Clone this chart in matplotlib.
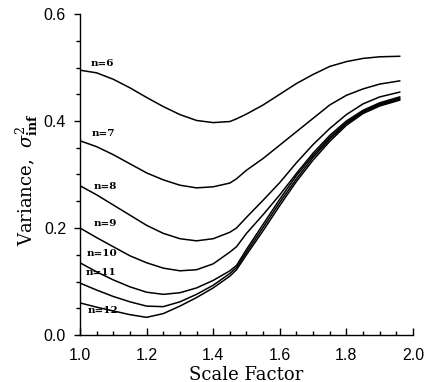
import matplotlib
matplotlib.use('Agg')
import matplotlib.pyplot as plt
from matplotlib.ticker import MultipleLocator

# scale factor grid
scale = [1.00, 1.05, 1.10, 1.15, 1.20, 1.25, 1.30, 1.35, 1.40, 1.45, 1.47,
         1.50, 1.55, 1.60, 1.65, 1.70, 1.75, 1.80, 1.85, 1.90, 1.96]

var_n6 = [0.495, 0.490, 0.478, 0.462, 0.444, 0.427, 0.412, 0.401, 0.397, 0.399, 0.404,
          0.413, 0.430, 0.450, 0.470, 0.487, 0.502, 0.511, 0.517, 0.520, 0.521]
var_n7 = [0.363, 0.352, 0.337, 0.320, 0.303, 0.290, 0.280, 0.275, 0.277, 0.284, 0.292,
          0.308, 0.330, 0.355, 0.380, 0.405, 0.430, 0.448, 0.460, 0.469, 0.475]
var_n8 = [0.279, 0.262, 0.243, 0.224, 0.205, 0.190, 0.180, 0.176, 0.180, 0.192, 0.200,
          0.220, 0.252, 0.285, 0.322, 0.356, 0.386, 0.412, 0.432, 0.445, 0.454]
var_n9 = [0.200, 0.182, 0.165, 0.148, 0.135, 0.125, 0.120, 0.122, 0.133, 0.155, 0.165,
          0.190, 0.225, 0.262, 0.302, 0.340, 0.373, 0.400, 0.420, 0.434, 0.445]
var_n10 = [0.135, 0.118, 0.103, 0.090, 0.080, 0.076, 0.079, 0.088, 0.102, 0.120, 0.130,
           0.160, 0.207, 0.254, 0.298, 0.336, 0.369, 0.397, 0.418, 0.432, 0.443]
var_n11 = [0.097, 0.084, 0.072, 0.062, 0.054, 0.053, 0.062, 0.076, 0.093, 0.115, 0.126,
           0.155, 0.201, 0.248, 0.292, 0.332, 0.366, 0.395, 0.416, 0.430, 0.441]
var_n12 = [0.060, 0.052, 0.045, 0.038, 0.033, 0.040, 0.054, 0.070, 0.088, 0.110, 0.122,
           0.150, 0.195, 0.242, 0.287, 0.327, 0.362, 0.392, 0.414, 0.428, 0.439]

labels = ['n=6', 'n=7', 'n=8', 'n=9', 'n=10', 'n=11', 'n=12']
label_x = [1.067, 1.069, 1.075, 1.075, 1.065, 1.062, 1.07]
label_y = [0.508, 0.376, 0.277, 0.209, 0.153, 0.116, 0.045]

plt.rcParams['mathtext.fontset'] = 'dejavuserif'

fig = plt.figure(figsize=(4.27, 3.82), dpi=100)
ax = fig.add_axes([80 / 427, 1 - 335 / 382, 333 / 427, 321 / 382])

for v in [var_n6, var_n7, var_n8, var_n9, var_n10, var_n11, var_n12]:
    ax.plot(scale, v, color='black', lw=1.1)

for lab, lx, ly in zip(labels, label_x, label_y):
    ax.text(lx, ly, lab, fontsize=7.5, fontweight='bold', family='DejaVu Serif',
            ha='center', va='center')

ax.set_xlim(1.0, 2.0)
ax.set_ylim(0.0, 0.6)
ax.spines['top'].set_visible(False)
ax.spines['right'].set_visible(False)
for s in ['left', 'bottom']:
    ax.spines[s].set_linewidth(1.0)

ax.xaxis.set_major_locator(MultipleLocator(0.2))
ax.xaxis.set_minor_locator(MultipleLocator(0.05))
ax.yaxis.set_major_locator(MultipleLocator(0.2))
ax.yaxis.set_minor_locator(MultipleLocator(0.05))
ax.xaxis.set_major_formatter(lambda v, p: f'{v:.1f}')
ax.yaxis.set_major_formatter(lambda v, p: f'{v:.1f}')

ax.tick_params(axis='x', which='major', direction='in', length=5, width=1, pad=9)
ax.tick_params(axis='x', which='minor', direction='in', length=3, width=1)
ax.tick_params(axis='y', which='major', direction='out', length=4, width=1, pad=6)
ax.tick_params(axis='y', which='minor', direction='out', length=3, width=1)
for t in ax.get_xticklabels() + ax.get_yticklabels():
    t.set_fontfamily('Liberation Sans')
    t.set_fontsize(11.5)

fig.text(246 / 427, 2.5 / 382, 'Scale Factor', family='DejaVu Serif', fontsize=13,
         ha='center', va='baseline')
fig.text(27 / 427, 1 - 180 / 382, r'Variance,  $\sigma^{2}_{\mathbf{inf}}$',
         family='DejaVu Serif', fontsize=13, rotation=90, ha='center', va='center')

fig.savefig('out.png', dpi=100)
